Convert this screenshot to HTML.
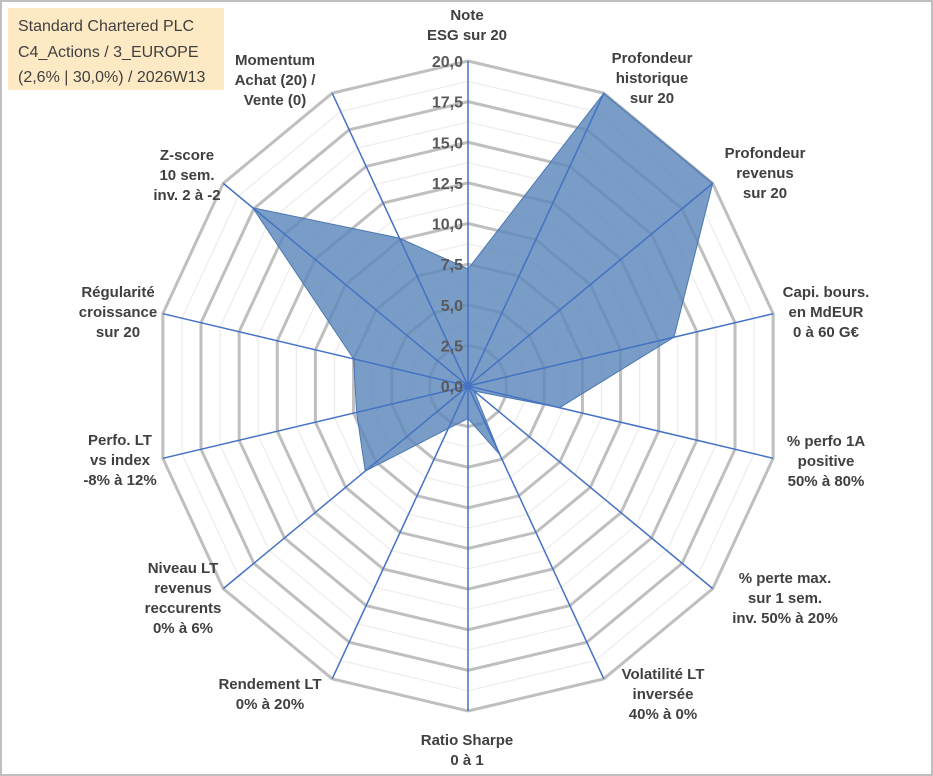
<!DOCTYPE html>
<html><head><meta charset="utf-8"><style>
body{margin:0;background:#fff;}
svg{display:block;font-family:"Liberation Sans",Arial,sans-serif;}
.lbl{font-weight:bold;font-size:15px;fill:#404040;text-anchor:middle;}
.tick{font-weight:bold;font-size:16px;fill:#595959;text-anchor:end;}
</style></head><body>
<svg id="chart" width="933" height="776">
<rect x="1" y="1" width="931" height="774" fill="#fff" stroke="#bfbfbf" stroke-width="2"/>
<rect x="8" y="8" width="216" height="82" fill="#fde9c4"/>
<text x="18" y="31" font-size="16" fill="#404040">Standard Chartered PLC</text>
<text x="18" y="57" font-size="16" fill="#404040">C4_Actions / 3_EUROPE</text>
<text x="18" y="82" font-size="16" fill="#404040">(2,6% | 30,0%) / 2026W13</text>
<g id="grid"></g><g id="series"></g><g id="axes"></g><g id="ticks"></g><g id="labels"></g>
</svg>
<script>
const categories=["Note|ESG sur 20","Profondeur|historique|sur 20","Profondeur|revenus|sur 20","Capi. bours.|en MdEUR|0 à 60 G€","% perfo 1A|positive|50% à 80%","% perte max.|sur 1 sem.|inv. 50% à 20%","Volatilité LT|inversée|40% à 0%","Ratio Sharpe|0 à 1","Rendement LT|0% à 20%","Niveau LT|revenus|reccurents|0% à 6%","Perfo. LT|vs index|-8% à 12%","Régularité|croissance|sur 20","Z-score|10 sem.|inv. 2 à -2","Momentum|Achat (20) /|Vente (0)"];
const values=[7.2,20,20,13.5,6.0,0.5,4.7,2.0,2.9,8.4,7.3,7.5,17.6,10.1];
const tickLabels=["0,0","2,5","5,0","7,5","10,0","12,5","15,0","17,5","20,0"];
const maxV=20;
const labelAnchors=[[467,20],[652,63],[765,158],[826,297],[826,446],[785,583],[663,679],[467,745],[270,689],[183,573],[120,445],[118,297],[187,160],[275,65]];
const cx=468,cy=386,rx=313,ry=325,N=categories.length,NS="http://www.w3.org/2000/svg";
function pt(i,v){const a=2*Math.PI*i/N;return [cx+Math.sin(a)*rx*v/maxV,cy-Math.cos(a)*ry*v/maxV];}
function mk(tag,attrs,parent){const e=document.createElementNS(NS,tag);for(const k in attrs)e.setAttribute(k,attrs[k]);document.getElementById(parent).appendChild(e);return e;}
for(let s=1;s<=16;s++){const v=s*1.25;const p=[];for(let i=0;i<N;i++)p.push(pt(i,v).join(","));
 const major=s%2===0;
 const g=mk("polygon",{points:p.join(" "),fill:"none",stroke:major?"#bfbfbf":"#ececec","stroke-width":major?3:1.2},"grid");
 
 }
const sp=values.map((v,i)=>pt(i,v).join(",")).join(" ");
const poly=mk("polygon",{points:sp,fill:"#5b87b9","fill-opacity":"0.82",stroke:"#4a77b4","stroke-width":1},"series");


for(let i=0;i<N;i++){const e=pt(i,maxV);
 const l=mk("line",{x1:cx,y1:cy,x2:e[0],y2:e[1],stroke:"#4472c4","stroke-width":1.5},"axes");
 
 }
tickLabels.forEach((t,k)=>{const y=cy-ry*(k*2.5)/maxV;
 const tx=mk("text",{x:cx-5,y:y+6,class:"tick"},"ticks");tx.textContent=t;
 
 });
categories.forEach((c,i)=>{const lines=c.split("|");const x=labelAnchors[i][0],y=labelAnchors[i][1];
 const t=mk("text",{class:"lbl",x:x,y:y},"labels");
 
 
 lines.forEach((ln,j)=>{const ts=mk("tspan",{x:x,dy:j?20:0},"labels");ts.textContent=ln;t.appendChild(ts);});});
</script>
</body></html>
